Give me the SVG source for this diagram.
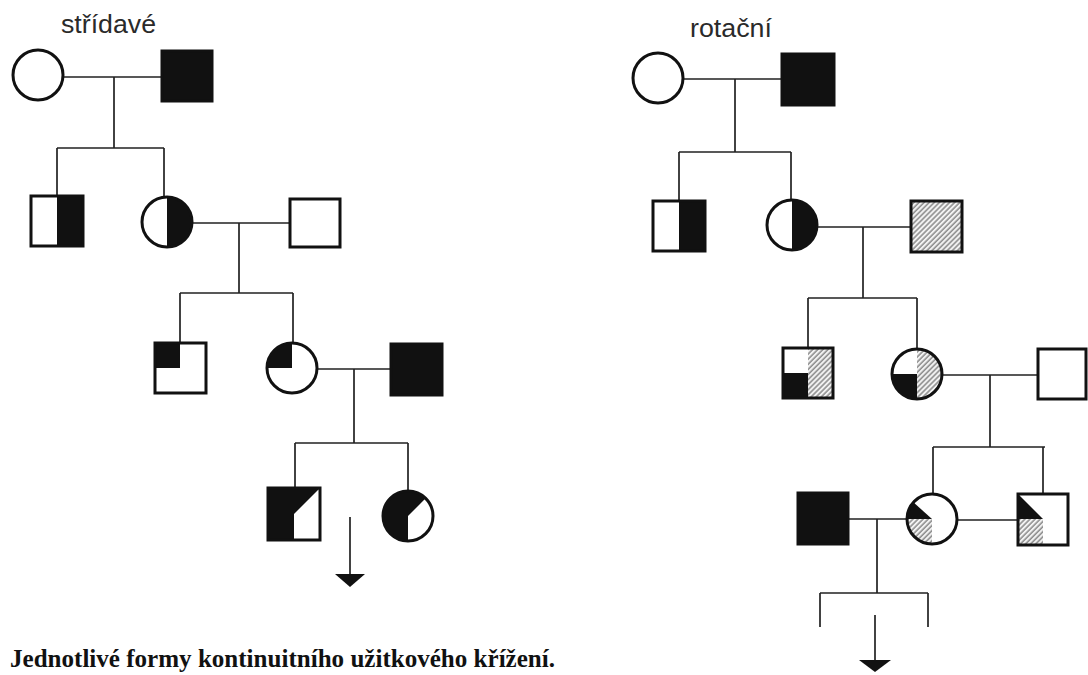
<svg xmlns="http://www.w3.org/2000/svg" width="1088" height="675" viewBox="0 0 1088 675">
  <defs>
    <pattern id="hatch" width="3.6" height="3.6" patternUnits="userSpaceOnUse" patternTransform="rotate(45)">
      <rect width="3.6" height="3.6" fill="#f2f2f2"/>
      <line x1="1" y1="0" x2="1" y2="3.6" stroke="#7a7a7a" stroke-width="1.3"/>
    </pattern>
    <style>
      .shape { stroke: #111; stroke-width: 3; fill: none; }
      .blk { fill: #111; stroke: none; }
      .hat { fill: url(#hatch); stroke: none; }
      .wht { fill: #fff; stroke: none; }
      .ln { stroke: #222; stroke-width: 1.7; fill: none; }
      .lbl { font-family: "Liberation Sans", Arial, sans-serif; font-size: 26px; fill: #2a2a2a; }
      .cap { font-family: "Liberation Serif", "Times New Roman", serif; font-size: 25px; font-weight: bold; fill: #111; }
      .arrow { fill: #111; stroke: none; }
    </style>
  </defs>
  <rect width="1088" height="675" fill="#fff"/>

  <!-- titles -->
  <text class="lbl" x="61" y="33" textLength="95" lengthAdjust="spacingAndGlyphs">střídavé</text>
  <text class="lbl" x="690" y="37" textLength="82" lengthAdjust="spacingAndGlyphs">rotační</text>

  <!-- connectors -->
  <g id="connectors">
    <!-- alternating scheme -->
    <path class="ln" d="M63 77 H162 M114 77 V148 M57 148 H164 M57 148 V196 M164 148 V197"/>
    <path class="ln" d="M192 223 H290 M239 223 V293 M180 293 H293 M180 293 V343 M293 293 V343"/>
    <path class="ln" d="M317 369 H391 M354 369 V443 M295 443 H408 M295 443 V488 M408 443 V491"/>
    <line class="ln" x1="350" y1="517" x2="350" y2="578"/>
    <polygon class="arrow" points="335,574 365,574 350,587"/>
    <!-- rotational scheme -->
    <path class="ln" d="M683 79 H782 M735 79 V152 M679 152 H791 M679 152 V201 M791 152 V200"/>
    <path class="ln" d="M817 227 H911 M863 227 V298 M808 298 H917 M808 298 V348 M917 298 V349"/>
    <path class="ln" d="M942 375 H1038 M990 375 V447 M933 447 H1045 M933 447 V494 M1043 447 V494"/>
    <path class="ln" d="M848 519 H907 M957 520 H1018 M877 519 V593 M820 593 H928 M820 593 V627 M928 593 V627"/>
    <line class="ln" x1="875" y1="615" x2="875" y2="664"/>
    <polygon class="arrow" points="859,660 891,660 875,672"/>
  </g>

  <!-- alternating scheme: generation 1 -->
  <g id="s-f1">
    <circle class="shape" cx="38" cy="75" r="25" fill="#fff"/>
  </g>
  <g id="s-m1">
    <rect class="blk" x="162" y="51" width="50" height="50"/>
    <rect class="shape" x="162" y="51" width="50" height="50"/>
  </g>

  <!-- alternating scheme: generation 2 -->
  <g id="s-m2">
    <rect class="wht" x="31" y="196" width="52" height="50"/>
    <rect class="blk" x="57" y="196" width="26" height="50"/>
    <rect class="shape" x="31" y="196" width="52" height="50"/>
  </g>
  <g id="s-f2">
    <circle class="wht" cx="167" cy="222" r="25"/>
    <path class="blk" d="M167 197 A25 25 0 0 1 167 247 Z"/>
    <circle class="shape" cx="167" cy="222" r="25"/>
  </g>
  <g id="s-m2b">
    <rect class="shape" x="290" y="199" width="50" height="48" fill="#fff"/>
  </g>

  <!-- alternating scheme: generation 3 -->
  <g id="s-m3">
    <rect class="wht" x="155" y="343" width="51" height="50"/>
    <rect class="blk" x="155" y="343" width="25" height="25"/>
    <rect class="shape" x="155" y="343" width="51" height="50"/>
  </g>
  <g id="s-f3">
    <circle class="wht" cx="292" cy="368" r="25"/>
    <path class="blk" d="M292 368 H267 A25 25 0 0 1 292 343 Z"/>
    <circle class="shape" cx="292" cy="368" r="25"/>
  </g>
  <g id="s-m3b">
    <rect class="blk" x="391" y="344" width="51" height="51"/>
    <rect class="shape" x="391" y="344" width="51" height="51"/>
  </g>

  <!-- alternating scheme: generation 4 -->
  <g id="s-m4">
    <rect class="blk" x="268" y="488" width="52" height="52"/>
    <polygon class="wht" points="294,514 320,488 320,540 294,540"/>
    <rect class="shape" x="268" y="488" width="52" height="52"/>
  </g>
  <g id="s-f4">
    <circle class="blk" cx="408" cy="516" r="25"/>
    <path class="wht" d="M408 516 L425.7 498.3 A25 25 0 0 1 408 541 Z"/>
    <circle class="shape" cx="408" cy="516" r="25"/>
  </g>

  <!-- rotational scheme: generation 1 -->
  <g id="r-f1">
    <circle class="shape" cx="658" cy="78" r="25" fill="#fff"/>
  </g>
  <g id="r-m1">
    <rect class="blk" x="782" y="54" width="52" height="51"/>
    <rect class="shape" x="782" y="54" width="52" height="51"/>
  </g>

  <!-- rotational scheme: generation 2 -->
  <g id="r-m2">
    <rect class="wht" x="653" y="201" width="52" height="50"/>
    <rect class="blk" x="679" y="201" width="26" height="50"/>
    <rect class="shape" x="653" y="201" width="52" height="50"/>
  </g>
  <g id="r-f2">
    <circle class="wht" cx="792" cy="225" r="25"/>
    <path class="blk" d="M792 200 A25 25 0 0 1 792 250 Z"/>
    <circle class="shape" cx="792" cy="225" r="25"/>
  </g>
  <g id="r-m2b">
    <rect class="hat" x="911" y="201" width="51" height="51"/>
    <rect class="shape" x="911" y="201" width="51" height="51"/>
  </g>

  <!-- rotational scheme: generation 3 -->
  <g id="r-m3">
    <rect class="wht" x="783" y="348" width="50" height="50"/>
    <rect class="blk" x="783" y="373" width="25" height="25"/>
    <rect class="hat" x="808" y="348" width="25" height="50"/>
    <rect class="shape" x="783" y="348" width="50" height="50"/>
  </g>
  <g id="r-f3">
    <circle class="wht" cx="917" cy="374" r="25"/>
    <path class="blk" d="M917 374 H892 A25 25 0 0 0 917 399 Z"/>
    <path class="hat" d="M917 349 A25 25 0 0 1 917 399 Z"/>
    <circle class="shape" cx="917" cy="374" r="25"/>
  </g>
  <g id="r-m3b">
    <rect class="shape" x="1038" y="349" width="48" height="50" fill="#fff"/>
  </g>

  <!-- rotational scheme: generation 4 -->
  <g id="r-m4a">
    <rect class="blk" x="798" y="493" width="50" height="51"/>
    <rect class="shape" x="798" y="493" width="50" height="51"/>
  </g>
  <g id="r-f4">
    <circle class="wht" cx="932" cy="519" r="25"/>
    <path class="blk" d="M932 519 H907 A25 25 0 0 1 913.4 502.3 Z"/>
    <path class="hat" d="M932 519 H907 A25 25 0 0 0 932 544 Z"/>
    <circle class="shape" cx="932" cy="519" r="25"/>
  </g>
  <g id="r-m4b">
    <rect class="wht" x="1018" y="494" width="50" height="51"/>
    <polygon class="blk" points="1018,494 1043,519 1018,519"/>
    <rect class="hat" x="1018" y="519" width="25" height="26"/>
    <rect class="shape" x="1018" y="494" width="50" height="51"/>
  </g>

  <!-- caption -->
  <text class="cap" x="10" y="667" textLength="545" lengthAdjust="spacingAndGlyphs">Jednotlivé formy kontinuitního užitkového křížení.</text>
</svg>
